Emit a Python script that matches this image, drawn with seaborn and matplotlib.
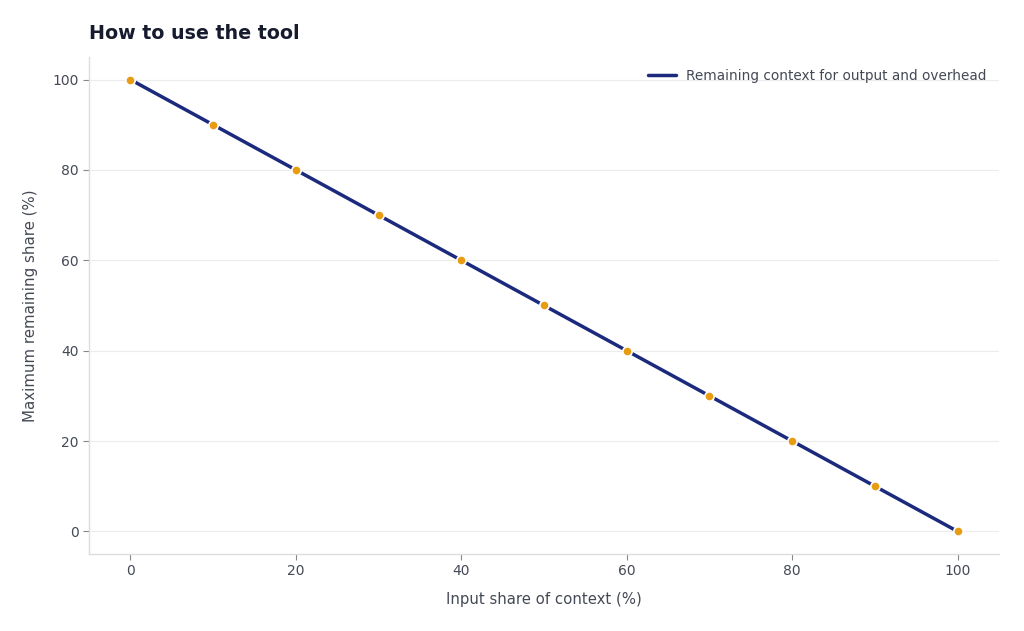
import matplotlib
matplotlib.use("Agg")
import matplotlib.pyplot as plt
import seaborn as sns
import pandas as pd

input_share = [0, 10, 20, 30, 40, 50, 60, 70, 80, 90, 100]
remaining_share = [100, 90, 80, 70, 60, 50, 40, 30, 20, 10, 0]
series_label = "Remaining context for output and overhead"
title = "How to use the tool"
x_label = "Input share of context (%)"
y_label = "Maximum remaining share (%)"

df = pd.DataFrame({"x": input_share, "y": remaining_share})

sns.set_theme(style="white")
plt.rcParams["font.family"] = ["DejaVu Sans"]

text_color = "#444955"
fig = plt.figure(figsize=(10.24, 6.31), dpi=100)
ax = fig.add_axes([0.0869, 0.122, 0.8887, 0.7877])

sns.lineplot(data=df, x="x", y="y", ax=ax, color="#1c2a7d", linewidth=2.5,
             label=series_label, zorder=2)
sns.scatterplot(data=df, x="x", y="y", ax=ax, color="#e89c12", s=45,
                edgecolor="white", linewidth=1.2, zorder=3, legend=False)

ax.set_xlim(-5, 105)
ax.set_ylim(-5, 105)
ax.set_xticks([0, 20, 40, 60, 80, 100])
ax.set_yticks([0, 20, 40, 60, 80, 100])
ax.grid(axis="y", color="#ececec", linewidth=0.8)
ax.grid(axis="x", visible=False)
ax.set_axisbelow(True)
for side in ["top", "right"]:
    ax.spines[side].set_visible(False)
for side in ["left", "bottom"]:
    ax.spines[side].set_color("#dddddd")
    ax.spines[side].set_linewidth(1.0)
ax.tick_params(axis="both", colors="#888888", labelcolor=text_color,
               labelsize=10, length=4, width=0.8, direction="out", left=True, bottom=True)

ax.set_xlabel(x_label, fontsize=10.7, color=text_color, labelpad=10)
ax.set_ylabel(y_label, fontsize=10.8, color=text_color, labelpad=10)
ax.set_title(title, loc="left", fontsize=13.7, fontweight="bold", color="#161b2e", pad=13)

leg = ax.legend(loc="upper right", frameon=False, fontsize=9.8, handlelength=2.0,
                bbox_to_anchor=(1.0, 1.0))
for t in leg.get_texts():
    t.set_color(text_color)

fig.savefig("out.png", dpi=100, facecolor="white")
